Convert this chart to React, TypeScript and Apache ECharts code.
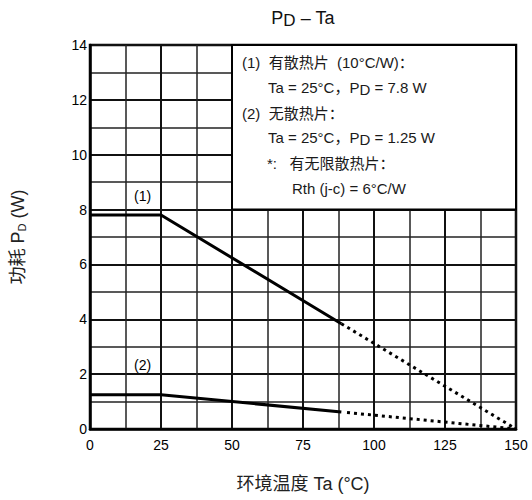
import React, { useEffect, useRef } from "react";
import * as echarts from "echarts";

// Curve (1): with heat sink
const curve1Solid: number[][] = [[0, 7.8], [25, 7.8], [88.5, 3.84]];
const curve1Dotted: number[][] = [[88.5, 3.84], [150, 0]];
// Curve (2): without heat sink
const curve2Solid: number[][] = [[0, 1.25], [25, 1.25], [88.5, 0.62]];
const curve2Dotted: number[][] = [[90.5, 0.6], [150, 0]];
// Curve labels
const curveLabelNames = ["(1)", "(2)"];
const curveLabelPos: number[][] = [[18.5, 8.5], [18.5, 2.35]];
// Note box extent (data coords)
const noteBox: number[][] = [[50, 8], [150, 14]];
const noteLines = [
  "(1)  有散热片  (10°C/W)：",
  "Ta = 25°C，P{d|D} = 7.8 W",
  "(2)  无散热片：",
  "Ta = 25°C，P{d|D} = 1.25 W",
  "*:   有无限散热片：",
  "Rth (j-c) = 6°C/W",
];

const FONT = "'Liberation Sans', Arial, 'Noto Sans CJK SC', sans-serif";

export default function App() {
  const ref = useRef<HTMLDivElement>(null);
  useEffect(() => {
    if (!ref.current) return;
    const chart = echarts.init(ref.current, null, { renderer: "svg" });
    const noteX = [242, 268, 242, 268, 267, 292];
    const noteY = [62, 87, 113, 137, 163, 188];
    const solid = { color: "#000", width: 3, type: "solid" as const };
    const dotted = { color: "#000", width: 3, type: [3, 4] as any, cap: "butt" as const };
    chart.setOption({
      animation: false,
      backgroundColor: "#fff",
      textStyle: { fontFamily: FONT, color: "#000", fontWeight: "normal" },
      grid: { left: 90, right: 16, top: 45, bottom: 71, show: true, borderColor: "#000", borderWidth: 2.5 },
      xAxis: {
        type: "value",
        min: 0,
        max: 150,
        interval: 25,
        name: "环境温度 Ta (°C)",
        nameLocation: "middle",
        nameGap: 46,
        nameTextStyle: { fontSize: 18, color: "#222", fontFamily: FONT, fontWeight: "normal" },
        axisLine: { show: true, lineStyle: { color: "#000", width: 2.5 } },
        axisTick: { show: false },
        axisLabel: { fontSize: 14, color: "#000", margin: 9 },
        splitLine: { show: true, lineStyle: { color: "#111", width: 2 } },
        minorTick: { show: false, splitNumber: 2 },
        minorSplitLine: { show: true, lineStyle: { color: "#222", width: 1.5 } },
      },
      yAxis: {
        type: "value",
        min: 0,
        max: 14,
        interval: 2,
        name: "功耗 P{s|D} (W)",
        nameLocation: "middle",
        nameGap: 63,
        nameTextStyle: {
          fontSize: 18,
          color: "#222",
          fontFamily: FONT,
          fontWeight: "normal",
          rich: { s: { fontSize: 11, verticalAlign: "bottom", fontFamily: FONT, color: "#222" } },
        },
        axisLine: { show: true, lineStyle: { color: "#000", width: 2.5 } },
        axisTick: { show: false },
        axisLabel: { fontSize: 14, color: "#000", margin: 3 },
        splitLine: { show: true, lineStyle: { color: "#111", width: 2 } },
        minorTick: { show: false, splitNumber: 2 },
        minorSplitLine: { show: true, lineStyle: { color: "#222", width: 1.5 } },
      },
      series: [
        {
          type: "line",
          data: curve1Solid,
          symbol: "none",
          lineStyle: solid,
          z: 5,
          markArea: {
            silent: true,
            itemStyle: { color: "#fff", borderColor: "#000", borderWidth: 2 },
            data: [[{ coord: noteBox[0] }, { coord: noteBox[1] }]],
          },
        },
        { type: "line", data: curve1Dotted, symbol: "none", lineStyle: dotted, z: 5 },
        { type: "line", data: curve2Solid, symbol: "none", lineStyle: solid, z: 5 },
        { type: "line", data: curve2Dotted, symbol: "none", lineStyle: dotted, z: 5 },
        {
          type: "line",
          symbol: "circle",
          symbolSize: 1,
          showSymbol: true,
          lineStyle: { width: 0, opacity: 0 },
          itemStyle: { opacity: 0 },
          data: curveLabelPos.map((p, i) => ({ value: p, name: curveLabelNames[i] })),
          label: {
            show: true,
            position: "inside",
            formatter: (p: any) => curveLabelNames[p.dataIndex],
            fontSize: 14,
            color: "#000",
            opacity: 1,
            textBorderWidth: 0,
            fontFamily: FONT,
          },
          z: 6,
        },
      ],
      graphic: [
        {
          type: "text",
          x: 303,
          y: 18,
          z: 100,
          style: {
            text: "P{d|D} – Ta",
            fontSize: 18,
            fontFamily: FONT,
            fontWeight: "normal",
            fill: "#111",
            align: "center",
            verticalAlign: "middle",
            rich: { d: { fontSize: 17, fontFamily: FONT, fill: "#111", padding: [5, 0, 0, 0] } },
          },
        },
        ...noteLines.map((t, i) => ({
          type: "text",
          x: noteX[i],
          y: noteY[i],
          z: 100,
          style: {
            text: t,
            fontSize: 15,
            fontFamily: FONT,
            fontWeight: "normal",
            fill: "#1a1a1a",
            align: "left",
            verticalAlign: "middle",
            rich: { d: { fontSize: 15, fontFamily: FONT, fill: "#1a1a1a", padding: [4, 0, 0, 0] } },
          },
        })),
      ],
    });
    return () => chart.dispose();
  }, []);
  return (
    <div
      ref={ref}
      style={{ position: "absolute", left: 0, top: 0, width: 532, height: 500, background: "#fff" }}
    />
  );
}
